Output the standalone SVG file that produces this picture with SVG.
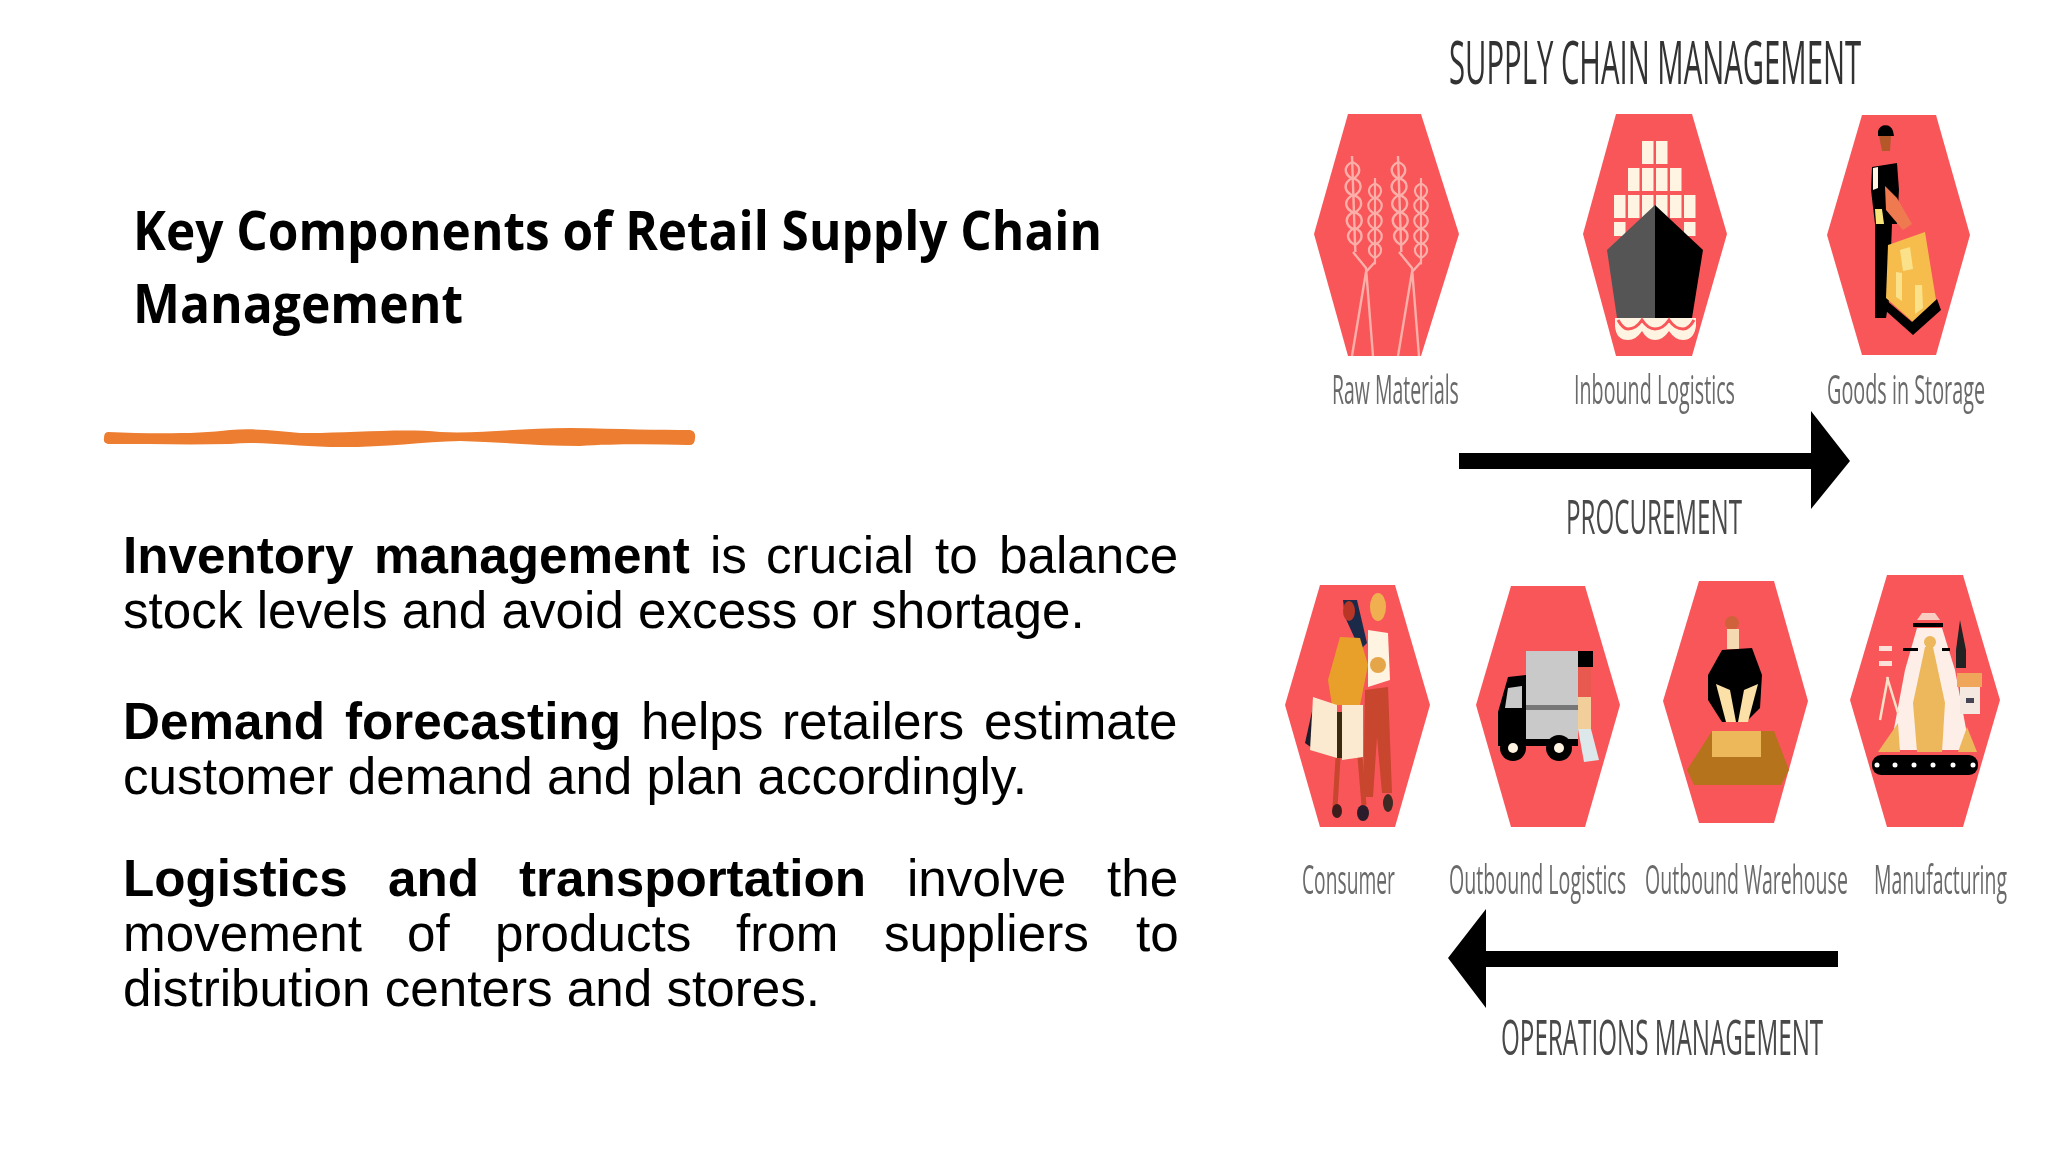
<svg xmlns="http://www.w3.org/2000/svg" xmlns:xlink="http://www.w3.org/1999/xlink" width="2048" height="1152" viewBox="0 0 2048 1152">
<style>
.hex{fill:#f9565a}
.body{font-family:"Liberation Sans",Arial,sans-serif;font-size:51.2px;fill:#000}
.b{font-weight:700}
.head{font-family:"Open Sans","Noto Sans",sans-serif;font-weight:700;font-size:54px;fill:#000}
.lab{font-family:"Open Sans","Noto Sans",sans-serif;font-weight:400;font-size:40px;fill:#6a6a6a}
.cap{font-family:"Open Sans","Noto Sans",sans-serif;font-weight:400;fill:#4a4a4a}
.ink{fill:#000}
.cream{fill:#fff3e2}
.w{fill:none;stroke:#fcaea8;stroke-width:2.400}
</style>
<defs>
<filter id="soft" x="-5%" y="-5%" width="110%" height="110%"><feGaussianBlur stdDeviation="0.6"/></filter>
<g id="ear">
<path class="w" d="M0 0V96"/>
<path class="w" d="M0 6c-9 4-9 12 0 17c9-5 9-13 0-17M0 22c-10 4-10 13 0 18c10-5 10-14 0-18M0 39c-10 4-10 13 0 18c10-5 10-14 0-18M0 56c-10 4-10 13 0 18c10-5 10-14 0-18M0 72c-9 4-9 12 0 17c9-5 9-13 0-17"/>
</g>
<g id="wheat">
<use xlink:href="#ear" href="#ear" transform="translate(1352 156) rotate(-2)"/>
<use xlink:href="#ear" href="#ear" transform="translate(1375 178) scale(.9)"/>
<path class="w" d="M1353 252L1366 268L1373 356M1375 262L1366 272L1352 356"/>
</g>
</defs>

<rect width="2048" height="1152" fill="#fff"/>

<g id="title">
<text class="head" x="133" y="250" textLength="969" lengthAdjust="spacingAndGlyphs">Key Components of Retail Supply Chain</text>
<text class="head" x="133" y="323" textLength="330" lengthAdjust="spacingAndGlyphs">Management</text>
</g>
<path id="underline" fill="#ed7d31" d="M108 432C150 434 200 434 230 430C255 428 280 431 300 433C340 434 400 428 440 432C480 434 520 428 570 428C620 429 660 430 690 430Q696 431 695 438Q695 446 688 445C650 444 610 444 580 446C540 446 500 442 460 441C420 442 380 448 330 447C290 446 260 441 230 444C190 445 150 444 108 444Q103 443 104 438Q104 432 108 432Z"/>

<g id="para1" class="body">
<text y="573"><tspan class="b" x="123">Inventory</tspan><tspan class="b" x="374">management</tspan><tspan x="710">is</tspan><tspan x="766">crucial</tspan><tspan x="935">to</tspan><tspan x="999">balance</tspan></text>
<text x="123" y="628">stock levels and avoid excess or shortage.</text>
</g>
<g id="para2" class="body">
<text y="739"><tspan class="b" x="123">Demand</tspan><tspan class="b" x="345">forecasting</tspan><tspan x="641">helps</tspan><tspan x="782">retailers</tspan><tspan x="984">estimate</tspan></text>
<text x="123" y="794">customer demand and plan accordingly.</text>
</g>
<g id="para3" class="body">
<text y="896"><tspan class="b" x="123">Logistics</tspan><tspan class="b" x="388">and</tspan><tspan class="b" x="519">transportation</tspan><tspan x="907">involve</tspan><tspan x="1107">the</tspan></text>
<text y="951"><tspan x="123">movement</tspan><tspan x="407">of</tspan><tspan x="495">products</tspan><tspan x="736">from</tspan><tspan x="884">suppliers</tspan><tspan x="1136">to</tspan></text>
<text x="123" y="1006">distribution centers and stores.</text>
</g>

<g filter="url(#soft)">
<text id="sc-title" class="cap" style="font-size:60px;fill:#333" transform="translate(1449 84) scale(.482 1)" textLength="855" lengthAdjust="spacingAndGlyphs">SUPPLY CHAIN MANAGEMENT</text>

<g id="raw-materials">
<polygon class="hex" points="1348,114 1421,114 1459,234 1421,356 1348,356 1314,234"/>
<use xlink:href="#wheat" href="#wheat"/>
<use xlink:href="#wheat" href="#wheat" transform="translate(46 0)"/>
<text class="lab" transform="translate(1332 404) scale(.488 1)" textLength="260" lengthAdjust="spacingAndGlyphs">Raw Materials</text>
</g>

<g id="inbound-logistics">
<polygon class="hex" points="1616,114 1692,114 1727,234 1692,356 1616,356 1583,234"/>
<g class="cream">
<rect x="1642" y="141" width="11.500" height="23"/><rect x="1656" y="141" width="11.500" height="23"/>
<rect x="1628" y="168" width="11.500" height="23"/><rect x="1642" y="168" width="11.500" height="23"/><rect x="1656" y="168" width="11.500" height="23"/><rect x="1670" y="168" width="11.500" height="23"/>
<rect x="1614" y="195" width="11.500" height="23"/><rect x="1628" y="195" width="11.500" height="23"/><rect x="1642" y="195" width="11.500" height="23"/><rect x="1656" y="195" width="11.500" height="23"/><rect x="1670" y="195" width="11.500" height="23"/><rect x="1684" y="195" width="11.500" height="23"/>
<rect x="1614" y="222" width="11.500" height="14"/><rect x="1684" y="222" width="11.500" height="14"/>
</g>
<polygon fill="#555" points="1655,205 1607,250 1617,318 1655,318"/>
<polygon class="ink" points="1655,205 1703,250 1692,318 1655,318"/>
<path class="cream" d="M1615 318H1696V326Q1694 340 1683 340Q1675 340 1669 331Q1663 340 1655 340Q1647 340 1642 331Q1636 340 1628 340Q1616 340 1615 326Z"/>
<path fill="none" stroke="#f9565a" stroke-width="3" d="M1618 320q5 9 10 9q8 0 14-9q6 9 13 9q8 0 14-9q6 9 14 9q6 0 11-9"/>
<text class="lab" transform="translate(1574 404) scale(.4735 1)" textLength="340" lengthAdjust="spacingAndGlyphs">Inbound Logistics</text>
</g>

<g id="goods-in-storage">
<polygon class="hex" points="1862,115 1936,115 1970,235 1936,355 1862,355 1827,235"/>
<path class="ink" d="M1878 131a8 9 0 0 1 15 0l1 5h-16z"/>
<path fill="#b4582c" d="M1879 136h12l-1 15h-8z"/>
<polygon class="ink" points="1872,167 1897,163 1899,190 1897,224 1875,224 1871,190"/>
<polygon fill="#fff3e2" points="1873,168 1878,167 1878,188 1873,190"/>
<polygon fill="#f8e27a" points="1875,209 1882,209 1884,224 1876,224"/>
<polygon fill="#f07a50" points="1885,186 1897,198 1912,224 1903,230 1886,210"/>
<polygon class="ink" points="1875,224 1892,224 1889,300 1886,318 1875,318"/>
<polygon fill="#f6bd4d" points="1888,245 1925,232 1936,300 1913,322 1886,298"/>
<path fill="#fbe28a" d="M1900 250l10-3l3 22l-10 2zM1896 272l6 1v28l-6-4zM1915 285l7 0l1 23l-8 6z"/>
<polygon class="ink" points="1886,300 1912,322 1937,299 1941,310 1913,335 1886,311"/>
<text class="lab" transform="translate(1827 404) scale(.494 1)" textLength="320" lengthAdjust="spacingAndGlyphs">Goods in Storage</text>
</g>

<text id="procurement" class="cap" style="font-size:47px" transform="translate(1566 534) scale(.55 1)" textLength="320" lengthAdjust="spacingAndGlyphs">PROCUREMENT</text>

<g id="consumer">
<polygon class="hex" points="1320,585 1395,585 1430,705 1395,827 1320,827 1285,705"/>
<polygon fill="#1d2a4a" points="1343,600 1357,600 1367,643 1360,650 1345,617"/>
<ellipse cx="1349" cy="611" rx="6" ry="10" fill="#b93626"/>
<polygon fill="#e9a02b" points="1340,637 1360,638 1368,665 1360,705 1332,705 1328,680"/>
<path fill="none" stroke="#c8452e" stroke-width="5" d="M1338 758L1335 808M1360 757L1364 805"/>
<ellipse cx="1337" cy="811" rx="5" ry="7" fill="#3c1d1d"/><ellipse cx="1363" cy="813" rx="6" ry="8" fill="#2a1d2a"/>
<polygon fill="#c8452e" points="1365,690 1388,687 1392,793 1382,793 1377,737 1373,797 1363,797"/>
<ellipse cx="1388" cy="803" rx="5" ry="9" fill="#3c2a20"/>
<ellipse cx="1378" cy="607" rx="8" ry="14" fill="#f0b050"/>
<polygon fill="#fff3e2" points="1368,630 1388,633 1390,680 1368,687"/>
<circle cx="1378" cy="665" r="8" fill="#e5a54a"/>
<polygon fill="#1d1d2a" points="1305,743 1313,707 1312,748"/>
<polygon fill="#fbead0" points="1313,697 1337,705 1337,758 1310,750"/>
<rect x="1337" y="712" width="5" height="46" fill="#3a2a10"/>
<polygon fill="#fbead0" points="1342,705 1363,705 1363,757 1342,760"/>
<text class="lab" transform="translate(1302 894) scale(.531 1)" textLength="175" lengthAdjust="spacingAndGlyphs">Consumer</text>
</g>

<g id="outbound-logistics">
<polygon class="hex" points="1511,586 1585,586 1620,705 1585,827 1511,827 1476,705"/>
<rect x="1526" y="651" width="52" height="88" fill="#c9c9c9"/>
<rect x="1526" y="705" width="52" height="5" fill="#777"/>
<polygon class="ink" points="1526,675 1508,677 1498,712 1498,742 1526,742"/>
<polygon fill="#c9c9c9" points="1508,688 1522,686 1522,708 1505,708"/>
<rect x="1498" y="739" width="80" height="7" class="ink"/>
<circle cx="1513" cy="748" r="13" class="ink"/><circle cx="1513" cy="748" r="5" fill="#fff3e2"/>
<circle cx="1559" cy="748" r="13" class="ink"/><circle cx="1559" cy="748" r="5" fill="#fff3e2"/>
<rect x="1578" y="651" width="15" height="16" class="ink"/>
<rect x="1578" y="667" width="13" height="30" fill="#e85a50"/>
<rect x="1578" y="697" width="13" height="32" fill="#f2cf9a"/>
<polygon fill="#dce8ea" points="1578,729 1591,729 1599,760 1584,762"/>
<text class="lab" transform="translate(1449 894) scale(.492 1)" textLength="360" lengthAdjust="spacingAndGlyphs">Outbound Logistics</text>
</g>

<g id="outbound-warehouse">
<polygon class="hex" points="1699,581 1774,581 1808,701 1774,823 1699,823 1663,701"/>
<circle cx="1732" cy="623" r="7" fill="#d0623a"/>
<rect x="1727" y="629" width="12" height="20" fill="#f5d9b0"/>
<polygon class="ink" points="1722,650 1752,648 1762,675 1760,708 1746,722 1722,722 1708,700 1708,675"/>
<polygon fill="#fbe0a8" points="1716,684 1730,690 1736,722 1726,722"/>
<polygon fill="#fbe0a8" points="1758,684 1744,690 1738,722 1748,722"/>
<polygon fill="#b5731a" points="1712,731 1774,731 1789,770 1781,785 1694,785 1687,770"/>
<rect x="1712" y="731" width="49" height="26" fill="#edb85a"/>
<text class="lab" transform="translate(1645 894) scale(.527 1)" textLength="385" lengthAdjust="spacingAndGlyphs">Outbound Warehouse</text>
</g>

<g id="manufacturing">
<polygon class="hex" points="1887,575 1963,575 2000,700 1963,827 1887,827 1850,700"/>
<polygon fill="#f8ccc0" points="1917,620 1940,620 1935,613 1922,613"/>
<polygon fill="#fdefe8" points="1917,628 1942,628 1955,670 1970,750 1890,750 1905,670"/>
<rect x="1913" y="623" width="30" height="4" class="ink"/>
<rect x="1903" y="648" width="15" height="3" class="ink"/><rect x="1942" y="648" width="8" height="3" class="ink"/>
<polygon fill="#edb75c" points="1878,752 1898,723 1900,752"/><polygon fill="#edb75c" points="1977,752 1967,727 1958,752"/>
<circle cx="1930" cy="642" r="6" fill="#edb75c"/>
<polygon fill="#edb75c" points="1925,647 1933,647 1945,703 1942,752 1917,752 1913,703"/>
<rect x="1879" y="646" width="13" height="5" fill="#fbe0d8"/><rect x="1879" y="661" width="13" height="5" fill="#fbe0d8"/>
<path fill="none" stroke="#fbe0c8" stroke-width="2.500" d="M1888 677L1880 720M1887 677L1898 713"/>
<polygon fill="#222" points="1960,620 1966,650 1966,668 1956,668 1956,650"/>
<rect x="1957" y="673" width="25" height="14" fill="#efa55a"/>
<rect x="1960" y="687" width="20" height="27" fill="#f5e8e0"/>
<rect x="1966" y="698" width="8" height="5" fill="#445"/>
<rect x="1872" y="755" width="106" height="20" rx="9" class="ink"/>
<g fill="#fff"><circle cx="1877" cy="765" r="2.500"/><circle cx="1895" cy="765" r="2.500"/><circle cx="1914" cy="765" r="2.500"/><circle cx="1933" cy="765" r="2.500"/><circle cx="1953" cy="765" r="2.500"/><circle cx="1973" cy="765" r="2.500"/></g>
<text class="lab" transform="translate(1874 894) scale(.4926 1)" textLength="270" lengthAdjust="spacingAndGlyphs">Manufacturing</text>
</g>

<text id="operations" class="cap" style="font-size:49px" transform="translate(1501 1055) scale(.505 1)" textLength="638" lengthAdjust="spacingAndGlyphs">OPERATIONS MANAGEMENT</text>

<g id="connectors">
<polygon class="ink" points="1459,453 1811,453 1811,411 1850,461 1811,509 1811,469 1459,469"/>
<polygon class="ink" points="1838,951 1486,951 1486,909 1448,958 1486,1008 1486,967 1838,967"/>
</g>
</g>
</svg>
